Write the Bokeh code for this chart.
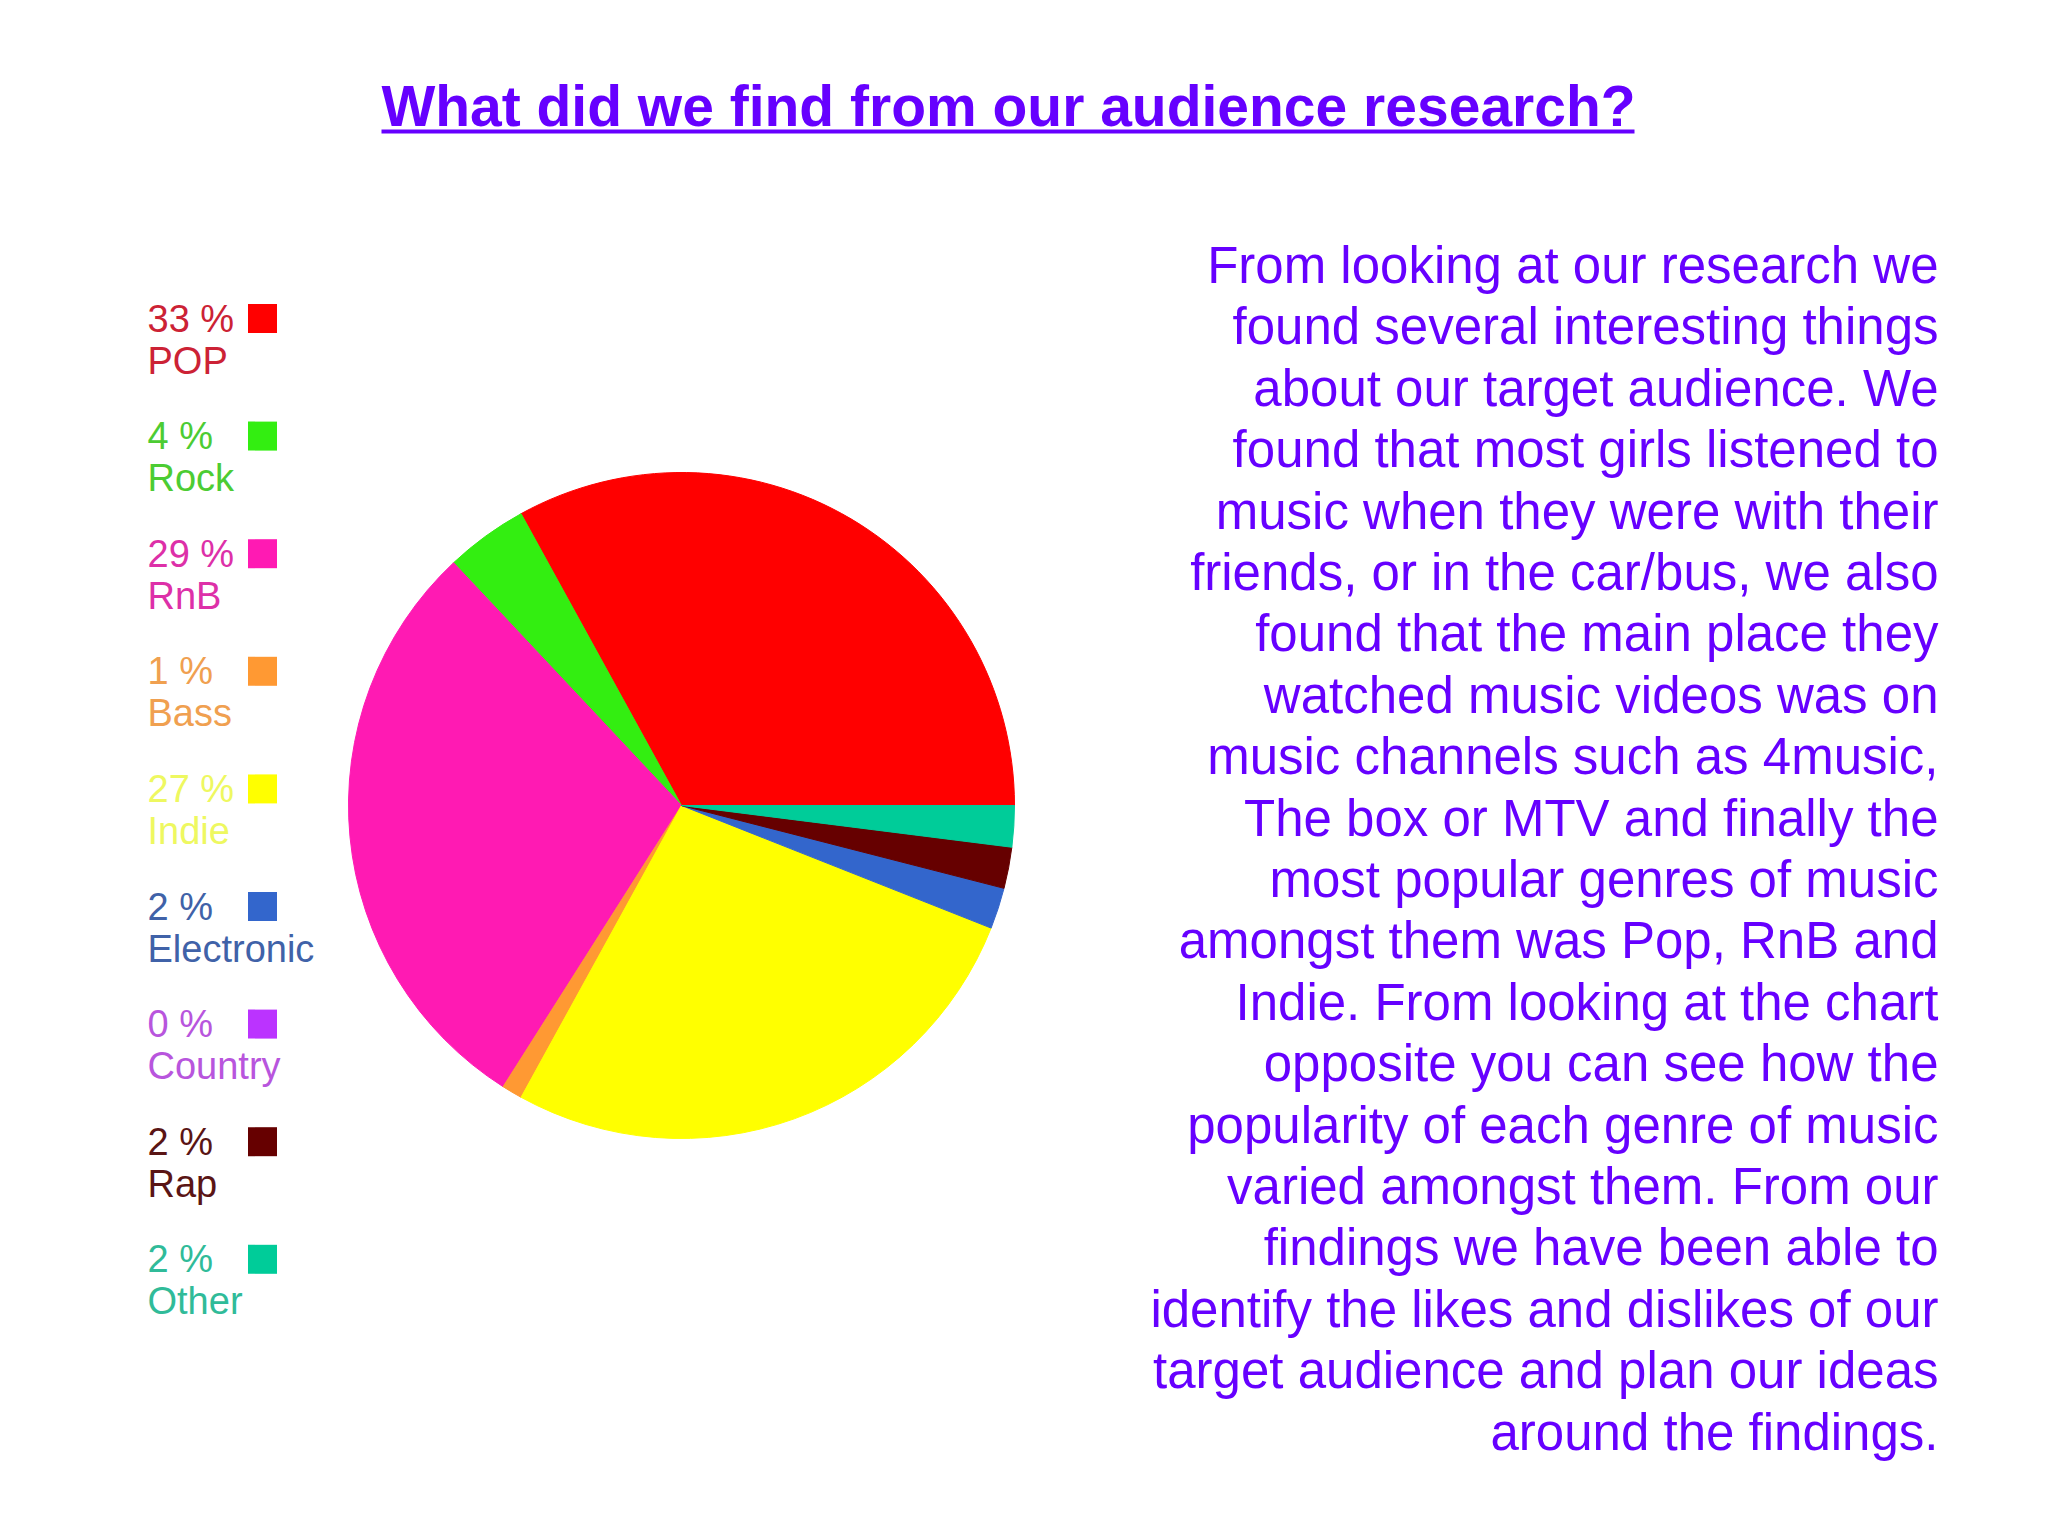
from bokeh.plotting import figure
from bokeh.models import Range1d, ColumnDataSource
from bokeh.core.properties import value
from bokeh.embed import file_html
from bokeh.resources import INLINE
import numpy as np

# ---------------- data ----------------
genres = ["POP", "Rock", "RnB", "Bass", "Indie", "Electronic", "Country", "Rap", "Other"]
percents = [33, 4, 29, 1, 27, 2, 0, 2, 2]
slice_colors = ["#ff0000", "#33ee11", "#ff1ab3", "#ff9933", "#ffff00",
                "#3366cc", "#bb33ff", "#660000", "#00cc99"]
label_colors = ["#cc2235", "#4ccc33", "#dd30a8", "#f0a050", "#eef860",
                "#4062a8", "#b855dd", "#5a1515", "#30bb99"]

title = "What did we find from our audience research?"
paragraph = [
    "From looking at our research we",
    "found several interesting things",
    "about our target audience. We",
    "found that most girls listened to",
    "music when they were with their",
    "friends, or in the car/bus, we also",
    "found that the main place they",
    "watched music videos was on",
    "music channels such as 4music,",
    "The box or MTV and finally the",
    "most popular genres of music",
    "amongst them was Pop, RnB and",
    "Indie. From looking at the chart",
    "opposite you can see how the",
    "popularity of each genre of music",
    "varied amongst them. From our",
    "findings we have been able to",
    "identify the likes and dislikes of our",
    "target audience and plan our ideas",
    "around the findings.",
]

# ---------------- layout helpers (page px -> data) ----------------
W, H = 2032, 1520
def X(x):
    return x
def Y(y):
    return H - y

PURPLE = "#6600ff"
FONT = value("Liberation Sans")

p = figure(width=W, height=H, x_range=Range1d(0, W), y_range=Range1d(0, H),
           output_backend="svg", toolbar_location=None, min_border=0)
p.axis.visible = False
p.grid.visible = False
p.outline_line_color = None
p.background_fill_color = "white"
p.border_fill_color = "white"

# ---------------- title ----------------
p.text(x=[X(1008)], y=[Y(105)], text=[title], text_font=FONT,
       text_font_size="57px", text_font_style="bold", text_color=PURPLE,
       text_align="center", text_baseline="alphabetic")
p.segment(x0=[X(381)], y0=[Y(131)], x1=[X(1634)], y1=[Y(131)],
          line_color=PURPLE, line_width=4)

# ---------------- pie ----------------
vals = np.array(percents, dtype=float)
ends = np.cumsum(vals) / vals.sum() * 2 * np.pi
starts = np.concatenate([[0.0], ends[:-1]])
nz = vals > 0
pie = ColumnDataSource(dict(start=starts[nz], end=ends[nz],
                            color=[c for c, k in zip(slice_colors, nz) if k]))
p.wedge(x=X(681), y=Y(805), radius=333, start_angle="start", end_angle="end",
        fill_color="color", line_color="color", line_width=1, source=pie)

# ---------------- legend ----------------
step = 117.6
idx = np.arange(len(genres))
leg = ColumnDataSource(dict(
    x=[X(147)] * len(genres),
    y_pct=[Y(318 + i * step) for i in idx],
    y_lab=[Y(360 + i * step) for i in idx],
    sq_x=[X(262)] * len(genres),
    sq_y=[Y(318 + i * step) for i in idx],
    pct=[f"{v} %" for v in percents],
    lab=genres,
    tcol=label_colors,
    scol=slice_colors,
))
p.text(x="x", y="y_pct", text="pct", text_color="tcol", text_font=FONT,
       text_font_size="38px", text_baseline="alphabetic", source=leg)
p.text(x="x", y="y_lab", text="lab", text_color="tcol", text_font=FONT,
       text_font_size="38px", text_baseline="alphabetic", source=leg)
p.scatter(x="sq_x", y="sq_y", marker="square", size=29, fill_color="scol",
          line_color=None, source=leg)

# ---------------- paragraph ----------------
lines_y = [Y(265 + i * 61.4) for i in range(len(paragraph))]
p.text(x=[X(1938)] * len(paragraph), y=lines_y, text=paragraph,
       text_font=FONT, text_font_size="51px", text_color=PURPLE,
       text_align="right", text_baseline="alphabetic")

open("out.html", "w").write(file_html(p, INLINE))
